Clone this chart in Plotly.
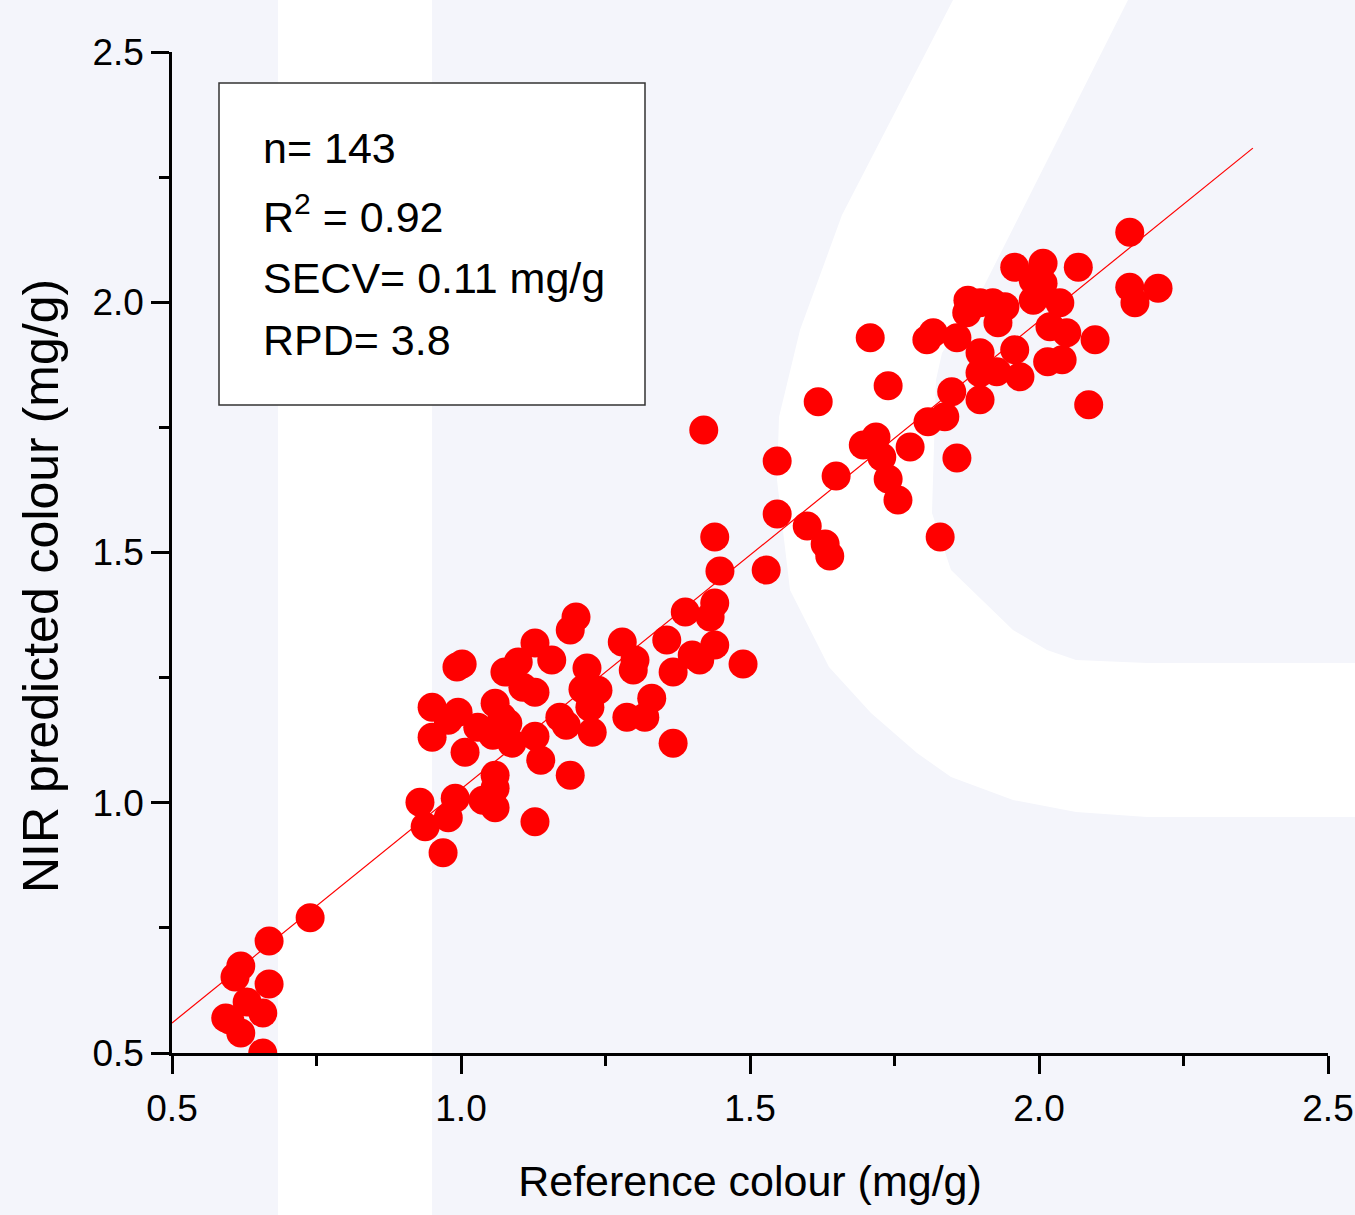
import plotly.graph_objects as go

# ---------------- data ----------------
reference_colour = [
    # low cluster
    0.739, 0.668, 0.619, 0.609, 0.668, 0.630, 0.657, 0.600, 0.619, 0.657, 0.593,
    # 0.9 - 1.1 low group
    0.929, 0.938, 0.969, 0.978, 0.990, 1.059, 1.059, 1.038, 1.059, 1.128,
    # middle cluster
    0.950, 0.950, 0.993, 1.002, 0.995, 0.978, 1.007, 1.029, 1.059, 1.071,
    1.081, 1.055, 1.088, 1.076, 1.099, 1.128, 1.157, 1.107, 1.128, 1.128,
    1.138, 1.189, 1.189, 1.199, 1.218, 1.211, 1.237, 1.223, 1.171, 1.182,
    1.227, 1.279, 1.287, 1.298, 1.301, 1.318, 1.330, 1.356, 1.367, 1.388,
    1.400, 1.431, 1.439, 1.439, 1.367, 1.488, 1.413, 1.448, 1.439, 1.528,
    # upper-middle cluster
    1.420, 1.547, 1.547, 1.599, 1.630, 1.638, 1.618, 1.649, 1.696, 1.718,
    1.728, 1.739, 1.756, 1.777, 1.708, 1.739, 1.808, 1.837, 1.849, 1.858, 1.829,
    # top cluster
    1.806, 1.817, 1.858, 1.898, 1.898, 1.898, 1.927, 1.958, 1.967, 1.877,
    1.898, 1.920, 1.941, 1.875, 1.929, 1.958, 2.007, 1.990, 2.007, 1.990,
    2.036, 2.019, 2.048, 2.015, 2.040, 2.097, 2.086, 2.068, 2.157, 2.157,
    2.166, 2.206,
]
nir_predicted = [
    0.770, 0.724, 0.674, 0.652, 0.638, 0.602, 0.580, 0.566, 0.540, 0.500, 0.570,
    1.001, 0.952, 0.900, 0.970, 1.009, 1.055, 1.029, 1.005, 0.990, 0.962,
    1.191, 1.131, 1.271, 1.277, 1.181, 1.165, 1.101, 1.151, 1.199, 1.171,
    1.159, 1.135, 1.119, 1.261, 1.281, 1.319, 1.285, 1.231, 1.221, 1.133,
    1.085, 1.055, 1.345, 1.371, 1.269, 1.227, 1.225, 1.191, 1.171, 1.155,
    1.141, 1.321, 1.171, 1.265, 1.285, 1.171, 1.209, 1.325, 1.261, 1.381,
    1.295, 1.371, 1.399, 1.315, 1.119, 1.277, 1.285, 1.463, 1.531, 1.465,
    1.745, 1.683, 1.577, 1.553, 1.517, 1.493, 1.801, 1.653, 1.715, 1.731,
    1.691, 1.647, 1.605, 1.711, 1.929, 1.833, 1.761, 1.771, 1.821, 1.689, 1.531,
    1.925, 1.939, 1.929, 1.899, 1.859, 1.805, 1.861, 1.905, 1.851, 2.004,
    1.999, 1.999, 1.991, 1.979, 1.959, 2.070, 2.078, 2.044, 2.038, 2.004,
    1.999, 1.951, 1.939, 1.881, 1.885, 1.925, 1.795, 2.070, 2.140, 2.030,
    1.999, 2.028,
]
assert len(reference_colour) == len(nir_predicted)

fit_x = [0.5, 2.37]
fit_y = [0.56, 2.308]

tick_vals = [0.5, 1.0, 1.5, 2.0, 2.5]
tick_text = ["0.5", "1.0", "1.5", "2.0", "2.5"]

stats_lines = ["n= 143", "R<sup>2</sup> = 0.92", "SECV= 0.11 mg/g", "RPD= 3.8"]

# ---------------- layout helpers (pixel -> paper) ----------------
W, H = 1355, 1215
L, R, T, B = 172, 27, 52, 162
PW, PH = W - L - R, H - T - B


def px(x):
    return (x - L) / PW


def py(y):
    return (H - B - y) / PH


FONT = "Arial, Liberation Sans, sans-serif"
BG = "#f4f5fb"

fig = go.Figure()

fig.add_trace(go.Scatter(
    x=reference_colour, y=nir_predicted, mode="markers",
    marker=dict(symbol="circle", size=29, color="#ff0000", line=dict(width=0)),
    hoverinfo="x+y", name="samples",
))
fig.add_trace(go.Scatter(
    x=fit_x, y=fit_y, mode="lines",
    line=dict(color="#ff0000", width=1.2), hoverinfo="skip", name="fit",
))

# background watermark shapes (decorative)
shapes = [
    dict(type="rect", xref="paper", yref="paper", layer="below",
         x0=px(278), x1=px(432), y0=py(H), y1=py(0),
         fillcolor="white", line=dict(width=0)),
]
outer = [(953, 0), (842, 215), (800, 330), (779, 417), (777, 480), (790, 590),
         (829, 667), (871, 713), (917, 753), (951, 777), (1013, 800),
         (1076, 812), (1147, 817), (1360, 817)]
inner = [(1360, 663), (1147, 663), (1076, 660), (1047, 650), (1013, 630),
         (951, 570), (932, 513), (936, 380), (942, 353), (982, 290), (1128, 0)]
pts = outer + inner
path = "M " + " L ".join(f"{px(a):.5f},{py(b):.5f}" for a, b in pts) + " Z"
shapes.append(dict(type="path", xref="paper", yref="paper", layer="below",
                   path=path, fillcolor="white", line=dict(width=0)))
# statistics box
shapes.append(dict(type="rect", xref="paper", yref="paper", layer="above",
                   x0=px(219), x1=px(645), y0=py(405), y1=py(83),
                   fillcolor="white", line=dict(color="#333333", width=1.5)))

annotations = []
line_y = [148, 214, 278, 340]
for txt, yy in zip(stats_lines, line_y):
    annotations.append(dict(
        text=txt, xref="paper", yref="paper", x=px(262), y=py(yy),
        xanchor="left", yanchor="middle", showarrow=False, borderpad=0,
        font=dict(family=FONT, size=43, color="black"),
    ))
annotations.append(dict(
    text="NIR predicted colour (mg/g)", xref="paper", yref="paper",
    x=px(41), y=py(586), xanchor="center", yanchor="middle",
    textangle=-90, showarrow=False,
    font=dict(family=FONT, size=50, color="black"),
))

axis_common = dict(
    range=[0.5, 2.5], tickmode="array", tickvals=tick_vals, ticktext=tick_text,
    ticks="outside", ticklen=18, tickwidth=2.5, tickcolor="black",
    showline=True, linewidth=2.5, linecolor="black",
    showgrid=False, zeroline=False, mirror=False,
    tickfont=dict(family=FONT, size=37, color="black"),
    minor=dict(dtick=0.25, tick0=0.5, ticks="outside", ticklen=10,
               tickwidth=2.5, tickcolor="black", showgrid=False),
)

fig.update_layout(
    width=W, height=H,
    margin=dict(l=L, r=R, t=T, b=B, autoexpand=False),
    paper_bgcolor=BG, plot_bgcolor="rgba(0,0,0,0)",
    showlegend=False,
    shapes=shapes, annotations=annotations,
    xaxis=dict(**axis_common, ticklabelstandoff=3,
               title=dict(text="Reference colour (mg/g)", standoff=38,
                          font=dict(family=FONT, size=43, color="black"))),
    yaxis=dict(**axis_common, ticklabelstandoff=0),
)

fig.write_html("out.html")
